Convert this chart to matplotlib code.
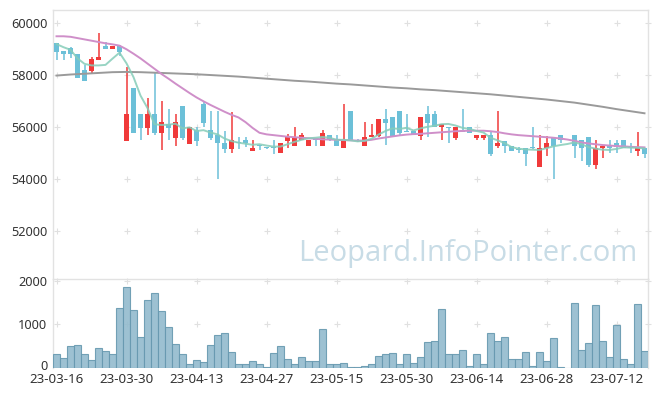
import numpy as np
import matplotlib.pyplot as plt
import matplotlib.transforms as mtrans

# daily candles (index = trading day)
tick_pos = [0, 10, 20, 30, 40, 50, 60, 70, 80]
tick_labels = ["23-03-16", "23-03-30", "23-04-13", "23-04-27", "23-05-15",
               "23-05-30", "23-06-14", "23-06-28", "23-07-12"]

nan = np.nan
opens = [59250, 58950, 59050, 58800, 58200, 58170, 58600, 59120, 59000, 59130,
         55490, 57510, 56500, 55990, 56500, 55790, 56120, 55600, 56820, 55370,
         55900, 56890, 55880, 55690, 55380, 55180, 55450, 55510, 55100, 55320,
         55220, 55210, 55000, 55490, 55300, 55510, 55300, 55520, 55300, 55700,
         55510, 55190, 56630, 55510, 55300, 55610, 55670, 56310, 56380, 56630,
         55820, 55870, 55680, 56510, 56510, 56000, 56010, 55600, 55900, 56000,
         55600, 55600, 55690, 55290, 55470, 55290, 55150, 55190, 55210, 54490,
         55190, 55610, 55690, nan, 55690, 55500, 55610, 54560, 55190, 55290,
         55380, 55500, 55290, 55100, 55190]
highs = [59250, 58950, 59100, 58800, 58400, 58690, 59620, 59280, 59120, 59180,
         58300, 57510, 56500, 57120, 58100, 57000, 56690, 56500, 56820, 56000,
         56030, 57000, 56620, 56620, 55870, 56600, 55640, 55610, 55510, 55320,
         55260, 55510, 55410, 55730, 56000, 55800, 55510, 55540, 55880, 55700,
         55700, 56890, 56630, 55560, 56190, 56110, 56310, 56690, 56380, 56630,
         56500, 55870, 56380, 56820, 56630, 56110, 56010, 56000, 56690, 56000,
         55690, 55690, 55870, 56630, 55470, 55290, 55230, 55190, 56000, 55690,
         55670, 55610, 55690, nan, 55690, 55500, 55610, 55500, 55290, 55500,
         55500, 55500, 55380, 55810, 55190]
lows = [58600, 58600, 58650, 57900, 57780, 58100, 58600, 59000, 59000, 58750,
        55490, 55790, 55510, 55700, 55700, 55110, 55510, 55300, 55510, 55370,
        55300, 56030, 55510, 54000, 55000, 55000, 55150, 55230, 55100, 55130,
        55150, 54980, 55000, 55190, 55300, 55510, 55300, 55300, 55300, 55490,
        55300, 55190, 55490, 55450, 55300, 55610, 55610, 55310, 55610, 55690,
        55810, 55700, 55500, 55610, 56000, 55500, 55380, 55500, 55810, 55790,
        55500, 55500, 54900, 55190, 55000, 55100, 55000, 54510, 55180, 54490,
        54900, 54000, 55380, nan, 54810, 54700, 54490, 54380, 54810, 55000,
        55000, 55190, 55000, 54900, 54810]
closes = [58900, 58800, 58800, 57900, 57780, 58630, 58700, 59000, 59120, 58900,
          56510, 55790, 55990, 56500, 55790, 56200, 55990, 56200, 55600, 56000,
          55490, 56180, 55600, 55380, 55180, 55500, 55390, 55390, 55200, 55300,
          55200, 55190, 55410, 55640, 55640, 55700, 55510, 55500, 55800, 55500,
          55300, 55500, 55500, 55490, 55620, 55700, 56310, 56180, 55670, 55800,
          55810, 55700, 56380, 56180, 56000, 56110, 55990, 56000, 55810, 55790,
          55690, 55690, 54990, 55380, 55290, 55100, 55130, 54990, 55190, 55190,
          55380, 55290, 55500, nan, 55290, 55190, 54560, 55190, 55290, 55190,
          55230, 55190, 55190, 55230, 54990]

volume = [320, 230, 500, 525, 320, 170, 460, 375, 300, 1375,
          1860, 1330, 710, 1560, 1720, 1305, 940, 550, 300, 70,
          170, 120, 525, 755, 800, 365, 90, 70, 140, 70,
          20, 345, 505, 205, 90, 250, 140, 160, 895, 90,
          90, 115, 20, 20, 45, 90, 275, 320, 345, 70,
          300, 115, 250, 595, 620, 1350, 320, 300, 410, 45,
          300, 70, 800, 620, 710, 185, 185, 365, 45, 365,
          140, 685, 20, 0, 1490, 410, 575, 1440, 620, 250,
          985, 205, 90, 1465, 390]

ma5 = [59200, 59080, 58980, 58650, 58440, 58380, 58380, 58400, 58640, 58870,
       58460, 57930, 57220, 56740, 56120, 56090, 56100, 56140, 55960, 56000,
       55860, 55890, 55800, 55730, 55570, 55470, 55410, 55370, 55330, 55350,
       55300, 55260, 55260, 55350, 55440, 55520, 55580, 55600, 55630, 55600,
       55520, 55520, 55500, 55460, 55480, 55560, 55720, 55860, 55960, 55940,
       55980, 55880, 55960, 56020, 56060, 56120, 56130, 56070, 55980, 55940,
       55860, 55800, 55600, 55500, 55400, 55240, 55180, 55150, 55140, 55130,
       55200, 55270, 55320, 55360, 55420, 55350, 55240, 55180, 55140, 55130,
       55170, 55230, 55220, 55210, 55190]
ma20 = [59500, 59500, 59480, 59430, 59380, 59330, 59280, 59230, 59190, 59140,
        59000, 58830, 58650, 58450, 58250, 58050, 57870, 57680, 57500, 57320,
        57150, 57000, 56860, 56730, 56600, 56480, 56380, 56200, 55980, 55790,
        55730, 55700, 55670, 55640, 55620, 55600, 55580, 55560, 55540, 55530,
        55520, 55510, 55500, 55490, 55490, 55520, 55570, 55610, 55650, 55690,
        55720, 55740, 55750, 55770, 55790, 55810, 55830, 55850, 55860, 55870,
        55870, 55870, 55850, 55820, 55770, 55730, 55700, 55680, 55660, 55640,
        55620, 55600, 55570, 55530, 55480, 55420, 55380, 55350, 55320, 55300,
        55280, 55270, 55250, 55240, 55230]
ma120 = [57990, 58010, 58030, 58045, 58060, 58075, 58090, 58105, 58120, 58125,
         58130, 58125, 58120, 58110, 58100, 58090, 58080, 58070, 58060, 58050,
         58040, 58025, 58010, 57995, 57980, 57965, 57950, 57930, 57910, 57890,
         57870, 57850, 57830, 57810, 57790, 57775, 57760, 57740, 57720, 57700,
         57680, 57665, 57650, 57630, 57610, 57590, 57570, 57550, 57530, 57515,
         57500, 57480, 57460, 57445, 57430, 57410, 57390, 57370, 57350, 57330,
         57310, 57290, 57270, 57245, 57220, 57195, 57170, 57145, 57120, 57095,
         57070, 57040, 57010, 56980, 56950, 56910, 56870, 56830, 56790, 56745,
         56700, 56660, 56620, 56580, 56540]

UP = "#f03a3a"
DOWN = "#6cc0d8"
GRID = "#e0e0e0"
FRAME = "#e2e2e2"

plt.rcParams['font.family'] = ['Noto Sans', 'DejaVu Sans']

fig = plt.figure(figsize=(6.57, 3.96), dpi=100)
W, H = 657, 396
ax = fig.add_axes([53 / W, 1 - 279 / H, 595 / W, 269 / H])
axv = fig.add_axes([53 / W, 1 - 367.5 / H, 595 / W, 88.5 / H])

x = np.arange(len(closes))
o = np.array(opens, float)
h = np.array(highs, float)
l = np.array(lows, float)
c = np.array(closes, float)
ok = ~np.isnan(c)
up = ok & (c >= o)
dn = ok & (c < o)

for m, col in ((up, UP), (dn, DOWN)):
    ax.vlines(x[m], l[m], h[m], color=col, lw=1.1, zorder=3)
    body = np.maximum(np.abs(c[m] - o[m]), 35)
    ax.bar(x[m], body, bottom=np.minimum(o[m], c[m]), width=0.72,
           color=col, linewidth=0, zorder=3)

ax.plot(x, ma120, color="#9a9a9a", lw=1.4, zorder=4)
ax.plot(x, ma20, color="#cf8fc9", lw=1.4, zorder=4)
ax.plot(x, ma5, color="#86cdb9", lw=1.4, alpha=0.85, zorder=4)

axv.bar(x, volume, width=1.0, color="#93bbce", edgecolor="#6799b0",
        linewidth=0.8, alpha=0.9, zorder=3)

ax.set_xlim(-0.5, len(closes) - 0.5)
axv.set_xlim(-0.5, len(closes) - 0.5)
ax.set_ylim(50170, 60510)
axv.set_ylim(0, 2040)

pticks = [52000, 54000, 56000, 58000, 60000]
vticks = [0, 1000, 2000]
ax.set_yticks(pticks)
axv.set_yticks(vticks)
ax.set_xticks([])
axv.set_xticks(tick_pos)
axv.set_xticklabels(tick_labels)

# grid drawn as small crosses at the intersections
gx = tick_pos + [len(closes) - 0.5]
for a, yt in ((ax, pticks), (axv, vticks[1:])):
    gxx, gyy = np.meshgrid(gx, yt)
    a.scatter(gxx.ravel(), gyy.ravel(), marker="+", s=16, color=GRID,
              linewidths=0.8, zorder=1, clip_on=False)

for a in (ax, axv):
    a.tick_params(length=0, labelsize=9.2, colors="#333333", pad=4)
    for s in a.spines.values():
        s.set_color(FRAME)
        s.set_linewidth(1.0)
axv.spines["bottom"].set_visible(False)
ax.spines["bottom"].set_visible(False)
axv.tick_params(axis="x", pad=4.2, labelsize=9.6)

# lift the "0" label a touch so it clears the first date
zero_lbl = axv.get_yticklabels()[0]
zero_lbl.set_transform(zero_lbl.get_transform() +
                       mtrans.ScaledTranslation(0, 2 / 72, fig.dpi_scale_trans))

ax.text((637 - 53) / 595, (279 - 261) / 269, "Leopard.InfoPointer.com",
        transform=ax.transAxes, ha="right", va="baseline", fontsize=21,
        color="#c8dce6", family=["Open Sans", "DejaVu Sans"],
        zorder=2)

fig.savefig("out.png", dpi=100)
